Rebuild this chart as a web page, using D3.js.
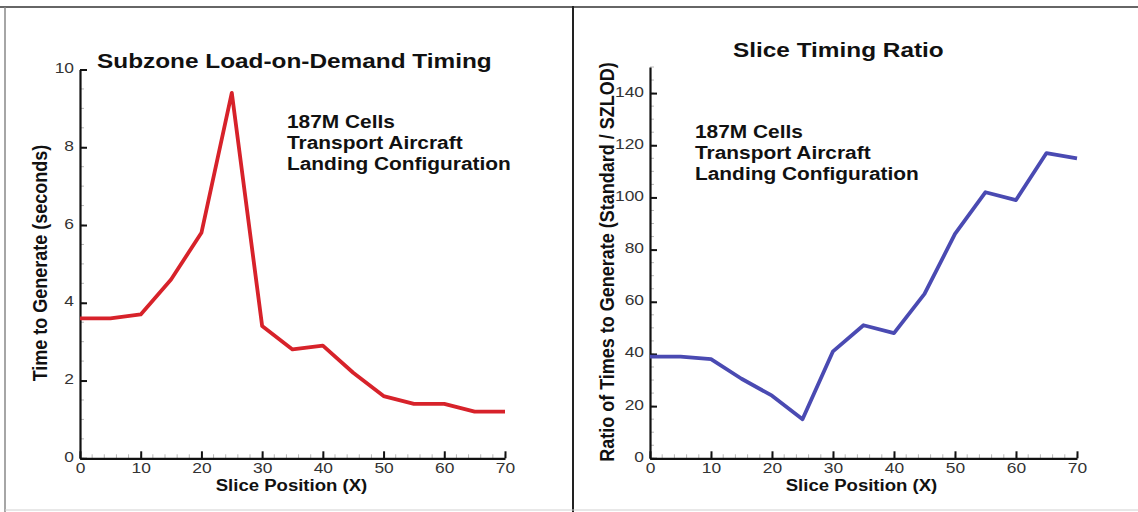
<!DOCTYPE html>
<html>
<head>
<meta charset="utf-8">
<script src="https://cdn.jsdelivr.net/npm/d3@7"></script>
<style>
  html, body { margin: 0; padding: 0; background: #fff; }
  svg { display: block; }
  text { font-family: "Liberation Sans", Arial, Helvetica, sans-serif; }
</style>
</head>
<body>
<svg id="chart" width="1138" height="512"></svg>
<script>
// ---- data ----
const slicePositions = [0, 5, 10, 15, 20, 25, 30, 35, 40, 45, 50, 55, 60, 65, 70];
const lodSeconds = [3.6, 3.6, 3.7, 4.6, 5.8, 9.4, 3.4, 2.8, 2.9, 2.2, 1.6, 1.4, 1.4, 1.2, 1.2];
const timingRatio = [39, 39, 38, 30.5, 24, 15, 41, 51, 48, 63, 86, 102, 99, 117, 115];
const xTicks = [0, 10, 20, 30, 40, 50, 60, 70];
const leftYTicks = [0, 2, 4, 6, 8, 10];
const rightYTicks = [0, 20, 40, 60, 80, 100, 120, 140];
const annotationLines = ["187M Cells", "Transport Aircraft", "Landing Configuration"];

const svg = d3.select("#chart");
const STRETCH = 1.16;

function stretchText(sel) {
  sel.each(function () {
    const w = this.getComputedTextLength();
    d3.select(this).attr("textLength", w * STRETCH).attr("lengthAdjust", "spacingAndGlyphs");
  });
}

// frame lines
svg.append("line").attr("x1", 0).attr("x2", 1138).attr("y1", 7).attr("y2", 7)
  .attr("stroke", "#666").attr("stroke-width", 2);
svg.append("line").attr("x1", 5).attr("x2", 5).attr("y1", 7).attr("y2", 512)
  .attr("stroke", "#888").attr("stroke-width", 1.5);
svg.append("line").attr("x1", 573).attr("x2", 573).attr("y1", 6).attr("y2", 512)
  .attr("stroke", "#222").attr("stroke-width", 2);
svg.append("line").attr("x1", 5).attr("x2", 1138).attr("y1", 510).attr("y2", 510)
  .attr("stroke", "#d0d0d0").attr("stroke-width", 1);

function panel(cfg) {
  const g = svg.append("g");
  const x = d3.scaleLinear().domain([0, 70]).range([cfg.x0, cfg.x1]);
  const y = d3.scaleLinear().domain([0, cfg.yMax]).range([cfg.yBottom, cfg.yTop]);

  // minor ticks
  const xMinor = d3.range(0, 70.001, 2);
  g.selectAll(null).data(xMinor).enter().append("line")
    .attr("x1", d => x(d)).attr("x2", d => x(d))
    .attr("y1", cfg.yBottom).attr("y2", cfg.yBottom - 4)
    .attr("stroke", "#b8b8b8").attr("stroke-width", 1);
  const yMinor = d3.range(0, cfg.yMax + 0.0001, cfg.yMinorStep);
  g.selectAll(null).data(yMinor).enter().append("line")
    .attr("x1", cfg.x0).attr("x2", cfg.x0 + 4)
    .attr("y1", d => y(d)).attr("y2", d => y(d))
    .attr("stroke", "#b8b8b8").attr("stroke-width", 1);

  // axes
  const xAxis = d3.axisBottom(x).tickValues(xTicks).tickSizeInner(-7).tickSizeOuter(0).tickPadding(4);
  const gx = g.append("g").attr("transform", `translate(0,${cfg.yBottom})`).call(xAxis);
  const yAxis = d3.axisLeft(y).tickValues(cfg.yTicks).tickSizeInner(-7).tickSizeOuter(0).tickPadding(6);
  const gy = g.append("g").attr("transform", `translate(${cfg.x0},0)`).call(yAxis);
  [gx, gy].forEach(a => {
    a.select(".domain").attr("stroke", "#111").attr("stroke-width", 2.2);
    a.selectAll(".tick line").attr("stroke", "#111").attr("stroke-width", 2);
    a.selectAll(".tick text").attr("fill", "#333").attr("font-size", 15)
      .attr("font-family", "Liberation Sans, Arial, sans-serif");
  });
  gy.selectAll(".tick text").attr("dy", "0.2em");
  stretchText(gx.selectAll(".tick text"));
  stretchText(gy.selectAll(".tick text"));

  // line
  const line = d3.line().x((d, i) => x(slicePositions[i])).y(d => y(d));
  g.append("path").datum(cfg.values)
    .attr("fill", "none").attr("stroke", cfg.color).attr("stroke-width", 3.8)
    .attr("stroke-linejoin", "round").attr("stroke-linecap", "butt")
    .attr("d", line);

  // title
  const t = g.append("text").attr("x", cfg.titleX).attr("y", cfg.titleY)
    .attr("font-size", 21).attr("font-weight", "bold").attr("fill", "#111")
    .text(cfg.title);
  stretchText(t);

  // annotation
  annotationLines.forEach((s, i) => {
    const a = g.append("text").attr("x", cfg.noteX).attr("y", cfg.noteY + i * 21)
      .attr("font-size", 18).attr("font-weight", "bold").attr("fill", "#111").text(s);
    stretchText(a);
  });

  // x label
  const xl = g.append("text").attr("x", (cfg.x0 + cfg.x1) / 2 + cfg.xLabelDx).attr("y", 491)
    .attr("text-anchor", "middle").attr("font-size", 16).attr("font-weight", "bold")
    .attr("fill", "#111").text("Slice Position (X)");
  stretchText(xl);

  // y label
  g.append("text")
    .attr("transform", `translate(${cfg.yLabelX},${cfg.yLabelY}) rotate(-90) scale(1,${STRETCH})`)
    .attr("text-anchor", "middle").attr("font-size", 18).attr("font-weight", "bold")
    .attr("fill", "#111").text(cfg.yLabel);
}

panel({
  x0: 80, x1: 505, yTop: 69.5, yBottom: 458.3, yMax: 10, yTicks: leftYTicks, yMinorStep: 0.5,
  values: lodSeconds, color: "#d7222a",
  title: "Subzone Load-on-Demand Timing", titleX: 97, titleY: 68,
  noteX: 287, noteY: 128, xLabelDx: -1,
  yLabel: "Time to Generate (seconds)", yLabelX: 47, yLabelY: 263
});

panel({
  x0: 650, x1: 1077, yTop: 67, yBottom: 458.3, yMax: 150, yTicks: rightYTicks, yMinorStep: 5,
  values: timingRatio, color: "#4a4ab2",
  title: "Slice Timing Ratio", titleX: 733, titleY: 57,
  noteX: 695, noteY: 138, xLabelDx: -2,
  yLabel: "Ratio of Times to Generate (Standard / SZLOD)", yLabelX: 614, yLabelY: 262
});
</script>
</body>
</html>
